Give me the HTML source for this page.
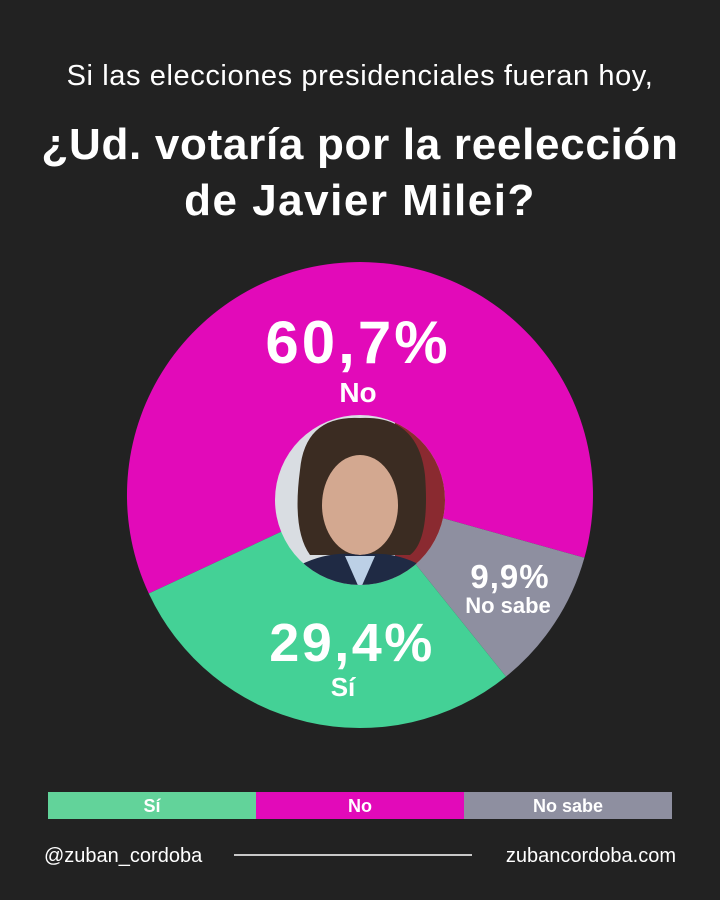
<!DOCTYPE html>
<html><head><meta charset="utf-8"><style>
html,body{margin:0;padding:0;background:#222222;}
body{width:720px;height:900px;overflow:hidden;position:relative;font-family:"Liberation Sans",sans-serif;color:#fff;}
.t{position:absolute;left:0;width:720px;text-align:center;white-space:nowrap;}
</style></head><body>
<div class="t" style="top:60px;font-size:29px;letter-spacing:0.6px;">Si las elecciones presidenciales fueran hoy,</div>
<div class="t" style="top:120px;font-size:44px;font-weight:bold;letter-spacing:0.7px;">¿Ud. votaría por la reelección</div>
<div class="t" style="top:176px;font-size:44px;font-weight:bold;letter-spacing:1.5px;">de Javier Milei?</div>
<svg width="720" height="900" style="position:absolute;left:0;top:0">
<defs><clipPath id="c"><circle cx="360" cy="500" r="85"/></clipPath></defs>
<path d="M360,495 L148.8,593.5 A233,233 0 1 1 584.4,557.7 Z" fill="#e20ab9"/>
<path d="M360,495 L584.4,557.7 A233,233 0 0 1 506,676.6 Z" fill="#8e8fa0"/>
<path d="M360,495 L506,676.6 A233,233 0 0 1 148.8,593.5 Z" fill="#44d196"/>
<g clip-path="url(#c)">
<rect x="270" y="410" width="180" height="180" fill="#d9dde2"/>
<rect x="395" y="410" width="55" height="180" fill="#8a2a30"/>
<path d="M300,470 Q305,415 360,418 Q418,415 425,475 Q430,540 410,555 L310,555 Q292,530 300,470Z" fill="#3b2c22"/>
<ellipse cx="360" cy="505" rx="38" ry="50" fill="#d3a890"/>
<path d="M290,600 L300,565 Q330,550 360,555 Q392,550 420,565 L430,600Z" fill="#1f2a44"/>
<path d="M345,556 L360,590 L375,556Z" fill="#bcd0e6"/>
</g>
<g font-family="Liberation Sans" font-weight="bold" fill="#fff" text-anchor="middle">
<text x="358" y="363" font-size="60" letter-spacing="3">60,7%</text>
<text x="358" y="402" font-size="28">No</text>
<text x="510" y="588" font-size="33" letter-spacing="1">9,9%</text>
<text x="508" y="613" font-size="22">No sabe</text>
<text x="352" y="661" font-size="54" letter-spacing="2.5">29,4%</text>
<text x="343" y="696" font-size="26">Sí</text>
</g>
<rect x="48" y="792" width="208" height="27" fill="#62d39a"/>
<rect x="256" y="792" width="208" height="27" fill="#e20ab9"/>
<rect x="464" y="792" width="208" height="27" fill="#8e8fa0"/>
<g font-family="Liberation Sans" font-weight="bold" fill="#fff" text-anchor="middle" font-size="18">
<text x="152" y="812">Sí</text>
<text x="360" y="812">No</text>
<text x="568" y="812">No sabe</text>
</g>
<text x="44" y="862" font-size="20" fill="#fff" font-family="Liberation Sans">@zuban_cordoba</text>
<line x1="234" y1="855" x2="472" y2="855" stroke="#fff" stroke-width="1.5"/>
<text x="676" y="862" font-size="20" fill="#fff" text-anchor="end" font-family="Liberation Sans">zubancordoba.com</text>
</svg>
</body></html>
